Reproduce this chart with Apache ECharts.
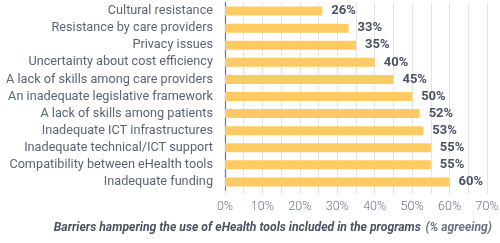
<!DOCTYPE html>
<html><head><meta charset="utf-8">
<script src="https://cdn.jsdelivr.net/npm/echarts@6/dist/echarts.min.js"></script>
<style>html,body{margin:0;padding:0;background:#fff}#c{width:500px;height:243px}</style>
</head><body><div id="c"></div>
<script>
const categories = ["Cultural resistance","Resistance by care providers","Privacy issues","Uncertainty about cost efficiency","A lack of skills among care providers","An inadequate legislative framework","A lack of skills among patients","Inadequate ICT infrastructures","Inadequate technical/ICT support","Compatibility between eHealth tools","Inadequate funding"];
const values = [26,33,35,40,45,50,52,53,55,55,60];
const xTicks = [0,10,20,30,40,50,60,70];

const chart = echarts.init(document.getElementById('c'), null, {renderer:'canvas'});
chart.setOption({
  animation:false,
  textStyle:{fontFamily:'Roboto'},
  grid:{left:225,right:13,top:2.5,bottom:52.5,containLabel:false,outerBoundsMode:'none'},
  title:{
    text:'{b|Barriers hampering the use of eHealth tools included in the programs} {n|(% agreeing)}',
    right:3, bottom:1,
    textStyle:{rich:{
      b:{fontFamily:'Roboto',fontSize:12.2,fontWeight:'bold',fontStyle:'italic',color:'#4a5263'},
      n:{fontFamily:'Roboto',fontSize:12.2,fontStyle:'italic',color:'#6b7383'}
    }}
  },
  xAxis:{type:'value',min:0,max:70,interval:5,
    axisLine:{show:false},
    axisTick:{show:true,length:3,lineStyle:{color:'#dcdcdc'}},
    splitLine:{show:true,lineStyle:{color:'#e4e4e4',width:1}},
    axisLabel:{margin:10,fontSize:12.5,color:'#6b7383',fontWeight:300,
      formatter:function(v){return xTicks.indexOf(v)>=0 ? v+'%' : '';}}
  },
  yAxis:{type:'category',data:categories,inverse:true,
    axisLine:{show:true,lineStyle:{color:'#6b7485',width:1.2}},
    axisTick:{show:false},
    axisLabel:{margin:12,fontSize:12.7,color:'#5b6476'}
  },
  series:[{type:'bar',data:values,barWidth:9,
    itemStyle:{color:'#FECB62'},
    label:{show:true,position:'right',distance:9,formatter:'{c}%',fontSize:13,fontWeight:'bold',color:'#4a5263'}
  }]
});
</script></body></html>
